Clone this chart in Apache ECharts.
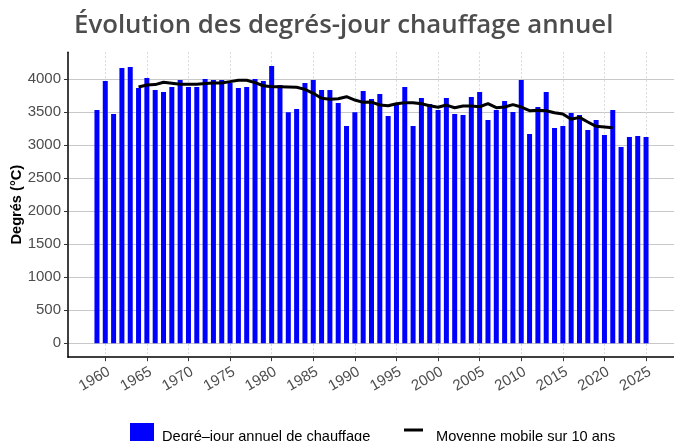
<!DOCTYPE html>
<html>
<head>
<meta charset="utf-8">
<script src="https://cdn.jsdelivr.net/npm/echarts@6/dist/echarts.min.js"></script>
<style>
  html, body { margin: 0; padding: 0; background: #ffffff; }
  #chart { width: 674px; height: 441px; }
</style>
</head>
<body>
<div id="chart"></div>
<script>
// Annual heating degree-days, one value per year
const years = [
  1959, 1960, 1961, 1962, 1963, 1964, 1965, 1966, 1967, 1968,
  1969, 1970, 1971, 1972, 1973, 1974, 1975, 1976, 1977, 1978,
  1979, 1980, 1981, 1982, 1983, 1984, 1985, 1986, 1987, 1988,
  1989, 1990, 1991, 1992, 1993, 1994, 1995, 1996, 1997, 1998,
  1999, 2000, 2001, 2002, 2003, 2004, 2005, 2006, 2007, 2008,
  2009, 2010, 2011, 2012, 2013, 2014, 2015, 2016, 2017, 2018,
  2019, 2020, 2021, 2022, 2023, 2024, 2025
];
const degreeDays = [
  3535, 3974, 3474, 4171, 4186, 3868, 4020, 3838, 3808, 3883,
  3989, 3883, 3883, 4004, 3989, 3989, 3944, 3868, 3883, 4004,
  3974, 4201, 3914, 3503, 3550, 3944, 3989, 3838, 3838, 3641,
  3292, 3503, 3823, 3702, 3777, 3444, 3626, 3883, 3292, 3717,
  3626, 3535, 3717, 3474, 3459, 3732, 3808, 3383, 3535, 3671,
  3505, 3989, 3171, 3580, 3808, 3262, 3292, 3489, 3459, 3232,
  3383, 3156, 3535, 2974, 3126, 3141, 3126
];

// 10-year moving average (centred window)
const maYears = [
  1964, 1965, 1966, 1967, 1968, 1969, 1970, 1971, 1972, 1973,
  1974, 1975, 1976, 1977, 1978, 1979, 1980, 1981, 1982, 1983,
  1984, 1985, 1986, 1987, 1988, 1989, 1990, 1991, 1992, 1993,
  1994, 1995, 1996, 1997, 1998, 1999, 2000, 2001, 2002, 2003,
  2004, 2005, 2006, 2007, 2008, 2009, 2010, 2011, 2012, 2013,
  2014, 2015, 2016, 2017, 2018, 2019, 2020, 2021
];
const maValues = [
  3883, 3915, 3920, 3955, 3940, 3925, 3925, 3925, 3935, 3945,
  3945, 3965, 3985, 3985, 3950, 3903, 3888, 3888, 3885, 3880,
  3848, 3788, 3712, 3697, 3705, 3737, 3686, 3651, 3655, 3611,
  3600, 3631, 3646, 3646, 3630, 3600, 3576, 3610, 3570, 3595,
  3595, 3585, 3631, 3570, 3580, 3616, 3580, 3525, 3530, 3525,
  3494, 3474, 3394, 3424, 3353, 3288, 3278, 3265
];

// Axis break values
const xTicks = [1960, 1965, 1970, 1975, 1980, 1985, 1990, 1995, 2000, 2005, 2010, 2015, 2020, 2025];
const yTicks = [0, 500, 1000, 1500, 2000, 2500, 3000, 3500, 4000];

const barName = 'Degré\u2013jour annuel de chauffage';
const lineName = 'Moyenne mobile sur 10 ans';

const chart = echarts.init(document.getElementById('chart'));
const axisGrey = '#4d4d4d';
const textFont = 'Liberation Sans';
const legendText = { fontFamily: textFont, fontSize: 14.6, color: '#000' };

chart.setOption({
  animation: false,
  backgroundColor: '#ffffff',
  title: {
    text: 'Évolution des degrés-jour chauffage annuel',
    left: 69,
    top: 8,
    textStyle: {
      fontFamily: 'Open Sans',
      fontWeight: 600,
      fontSize: 25.8,
      color: '#4d4d4d'
    }
  },
  legend: [
    {
      // bar key: filled square
      data: [{ name: barName, icon: 'rect' }],
      left: 125,
      top: 418,
      itemWidth: 24,
      itemHeight: 24,
      selectedMode: false,
      formatter: () => '',
      textStyle: { fontSize: 1 }
    },
    {
      // bar key label
      data: [{ name: barName, icon: 'none' }],
      left: 152,
      top: 420,
      itemWidth: 0,
      itemHeight: 24,
      selectedMode: false,
      textStyle: legendText
    },
    {
      // line key: short black stroke
      data: [{ name: lineName, icon: 'rect' }],
      left: 399,
      top: 423.5,
      itemWidth: 19,
      itemHeight: 3,
      selectedMode: false,
      formatter: () => '',
      textStyle: { fontSize: 1 }
    },
    {
      // line key label
      data: [{ name: lineName, icon: 'none' }],
      left: 426,
      top: 420,
      itemWidth: 0,
      itemHeight: 24,
      selectedMode: false,
      textStyle: legendText
    }
  ],
  grid: {
    left: 68,
    right: 0,
    top: 52.2,
    bottom: 83.8,
    containLabel: false,
    outerBoundsMode: 'none'
  },
  xAxis: {
    type: 'value',
    min: 1955.52,
    max: 2028.36,
    axisLine: { show: true, onZero: false, lineStyle: { color: '#000', width: 1.5 } },
    axisTick: { show: true, customValues: xTicks, length: 4, lineStyle: { color: '#333' } },
    axisLabel: {
      customValues: xTicks,
      rotate: 30,
      margin: 7,
      align: 'right',
      verticalAlign: 'top',
      fontFamily: textFont,
      fontSize: 15,
      color: axisGrey,
      formatter: v => String(v)
    },
    splitLine: { show: true, customValues: xTicks, lineStyle: { color: '#d9d9d9', type: [2, 2], width: 1 } }
  },
  yAxis: {
    type: 'value',
    min: -210,
    max: 4411,
    name: 'Degrés (°C)',
    nameLocation: 'middle',
    nameGap: 44,
    nameMoveOverlap: false,
    nameTextStyle: { fontFamily: textFont, fontWeight: 'bold', fontSize: 14.6, color: '#000' },
    axisLine: { show: true, onZero: false, lineStyle: { color: '#000', width: 1.5 } },
    axisTick: { show: true, customValues: yTicks, length: 4, lineStyle: { color: '#333' } },
    axisLabel: {
      customValues: yTicks,
      margin: 7,
      fontFamily: textFont,
      fontSize: 15,
      color: axisGrey,
      formatter: v => String(v)
    },
    splitLine: { show: true, customValues: yTicks, lineStyle: { color: '#c8c8c8', width: 1 } }
  },
  series: [
    {
      name: barName,
      type: 'bar',
      barWidth: 5,
      itemStyle: { color: '#0000ff' },
      data: years.map((y, i) => [y, degreeDays[i]]),
      z: 2
    },
    {
      name: lineName,
      type: 'line',
      symbol: 'none',
      smooth: false,
      lineStyle: { color: '#000', width: 3 },
      itemStyle: { color: '#000' },
      data: maYears.map((y, i) => [y, maValues[i]]),
      z: 3
    }
  ]
});
</script>
</body>
</html>
